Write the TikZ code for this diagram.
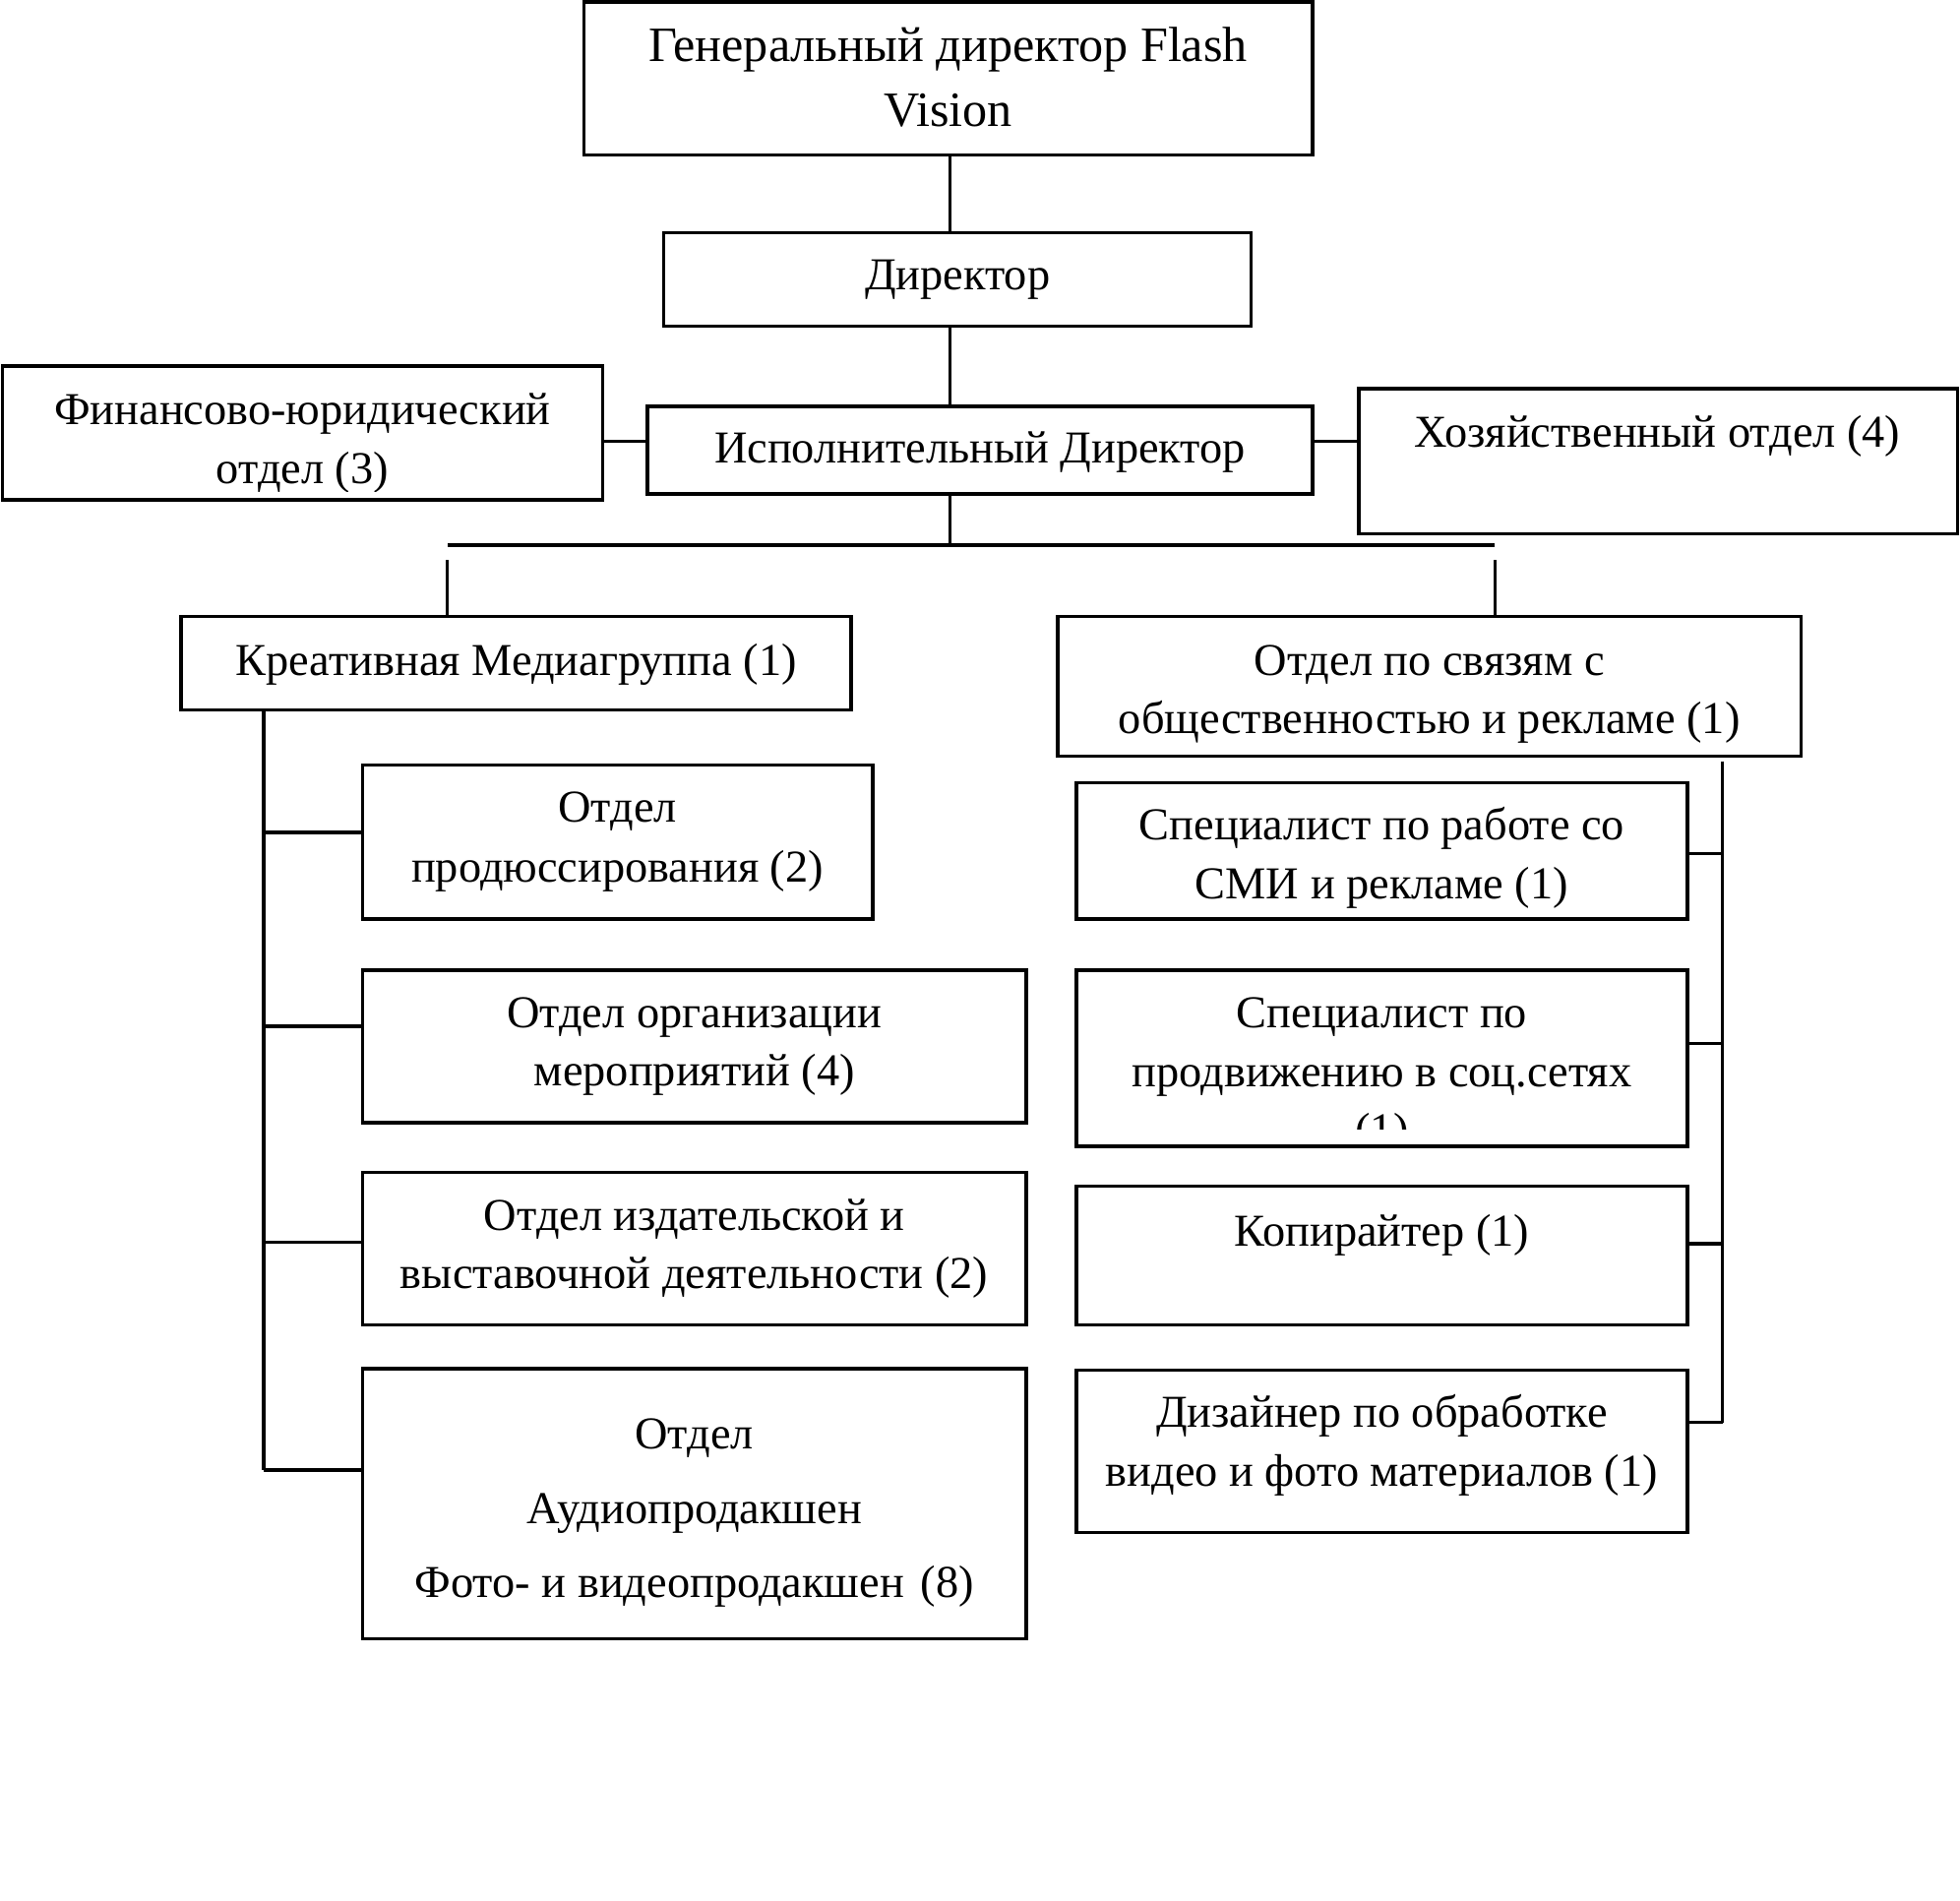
\documentclass[tikz,border=0pt]{standalone}
\usepackage{fontspec}
\setmainfont{Liberation Serif}
\tikzset{
  box/.style={draw, line width=2.8pt, inner sep=0pt, outer sep=0pt},
  txt/.style={align=center, anchor=base, inner sep=0pt, font=\fontsize{36.5}{48}\selectfont},
  conn/.style={line width=2.6pt}
}
\newcommand\mkbox[5]{\node[box, minimum width={#4-#2}, minimum height={#5-#3}] (#1) at ({(#2+#4)/2},{(#3+#5)/2}) {};}
\begin{document}
\begin{tikzpicture}[x=1pt,y=-1pt]
\useasboundingbox (0,0) rectangle (1568,1520);
\fill[white] (0,0) rectangle (1568,1520);
% boxes
\mkbox{gen}{467}{1.5}{1050}{124}
\mkbox{dir}{531}{186}{1001}{261}
\mkbox{isp}{518}{325}{1050}{395}
\mkbox{fin}{2}{293}{482}{400}
\mkbox{hoz}{1087}{311}{1566}{427}
\mkbox{kre}{145}{493}{681}{568}
\mkbox{pr}{846}{493}{1441}{605}
\mkbox{prod}{290}{612}{698}{735}
\mkbox{org}{290}{776}{821}{898}
\mkbox{izd}{290}{938}{821}{1060}
\mkbox{aud}{290}{1095}{821}{1311}
\mkbox{smi}{861}{626}{1350}{735}
\mkbox{soc}{861}{776}{1350}{917}
\mkbox{kop}{861}{949}{1350}{1060}
\mkbox{diz}{861}{1096}{1350}{1226}
% texts (anchor = baseline of the last line)
\node[txt, font=\fontsize{39.5}{52}\selectfont] (gen-t) at (758.5,101) {Генеральный директор Flash\\Vision};
\node[txt] (dir-t) at (766,232) {Директор};
\node[txt] (isp-t) at (784,370) {Исполнительный Директор};
\begin{scope}
\clip ([yshift=7pt]fin.south west) rectangle (fin.north east);
\node[txt, font=\fontsize{36.5}{47}\selectfont] (fin-t) at (242,387) {Финансово-юридический\\отдел (3)};
\end{scope}
\node[txt] (hoz-t) at (1326,358) {Хозяйственный отдел (4)};
\node[txt] (kre-t) at (413,540) {Креативная Медиагруппа (1)};
\node[txt, font=\fontsize{36.5}{47}\selectfont] (pr-t) at (1143.5,587) {Отдел по связям с\\общественностью и рекламе (1)};
\node[txt] (prod-t) at (494,706) {Отдел\\продюссирования (2)};
\node[txt, font=\fontsize{36.5}{47}\selectfont] (org-t) at (555.5,869) {Отдел организации\\мероприятий (4)};
\node[txt, font=\fontsize{36.5}{47}\selectfont] (izd-t) at (555.5,1031) {Отдел издательской и\\выставочной деятельности (2)};
\node[txt, font=\fontsize{36.5}{59.5}\selectfont] (aud-t) at (555.5,1278) {Отдел\\Аудиопродакшен\\Фото- и видеопродакшен\hspace{4pt} (8)};
\begin{scope}
\clip ([yshift=9pt]smi.south west) rectangle (smi.north east);
\node[txt, font=\fontsize{36.5}{47}\selectfont] (smi-t) at (1105.5,719) {Специалист по работе со\\СМИ и рекламе (1)};
\end{scope}
\begin{scope}
\clip ([yshift=14pt]soc.south west) rectangle (soc.north east);
\node[txt, font=\fontsize{36.5}{47}\selectfont] (soc-t) at (1105.5,916) {Специалист по\\продвижению в соц.сетях\\(1)};
\end{scope}
\node[txt] (kop-t) at (1105.5,997) {Копирайтер (1)};
\node[txt, font=\fontsize{36.5}{47}\selectfont] (diz-t) at (1105.5,1189) {Дизайнер по обработке\\видео и фото материалов (1)};
% helper coordinates
\coordinate (spine) at (760,0);
\coordinate (hy) at (0,353);
\coordinate (busL) at (358,436);
\coordinate (busR) at (1196,436);
\coordinate (busM) at (760,436);
\coordinate (gapL) at (358,448);
\coordinate (gapR) at (1196,448);
\coordinate (lx) at (211,0);
\coordinate (lb1) at (211,666);
\coordinate (lb2) at (211,821);
\coordinate (lb3) at (211,994);
\coordinate (lb4) at (211,1176);
\coordinate (rtop) at (1378,609);
\coordinate (rb1) at (1378,683);
\coordinate (rb2) at (1378,835);
\coordinate (rb3) at (1378,995);
\coordinate (rb4) at (1378,1138);
% connectors
\draw[conn] (gen.south -| spine) -- (dir.north -| spine);
\draw[conn] (dir.south -| spine) -- (isp.north -| spine);
\draw[conn] (isp.west |- hy) -- (fin.east |- hy);
\draw[conn] (isp.east |- hy) -- (hoz.west |- hy);
\draw[conn] (isp.south -| spine) -- (busM);
\draw[conn] (busL) -- (busR);
\draw[conn] (gapL) -- (kre.north -| gapL);
\draw[conn] (gapR) -- (pr.north -| gapR);
\draw[conn] (kre.south -| lx) -- (lb4);
\draw[conn] (lb1) -- (prod.west |- lb1);
\draw[conn] (lb2) -- (org.west |- lb2);
\draw[conn] (lb3) -- (izd.west |- lb3);
\draw[conn] (lb4) -- (aud.west |- lb4);
\draw[conn] (rtop) -- (rb4);
\draw[conn] (rb1) -- (smi.east |- rb1);
\draw[conn] (rb2) -- (soc.east |- rb2);
\draw[conn] (rb3) -- (kop.east |- rb3);
\draw[conn] (rb4) -- (diz.east |- rb4);
\end{tikzpicture}
\end{document}
